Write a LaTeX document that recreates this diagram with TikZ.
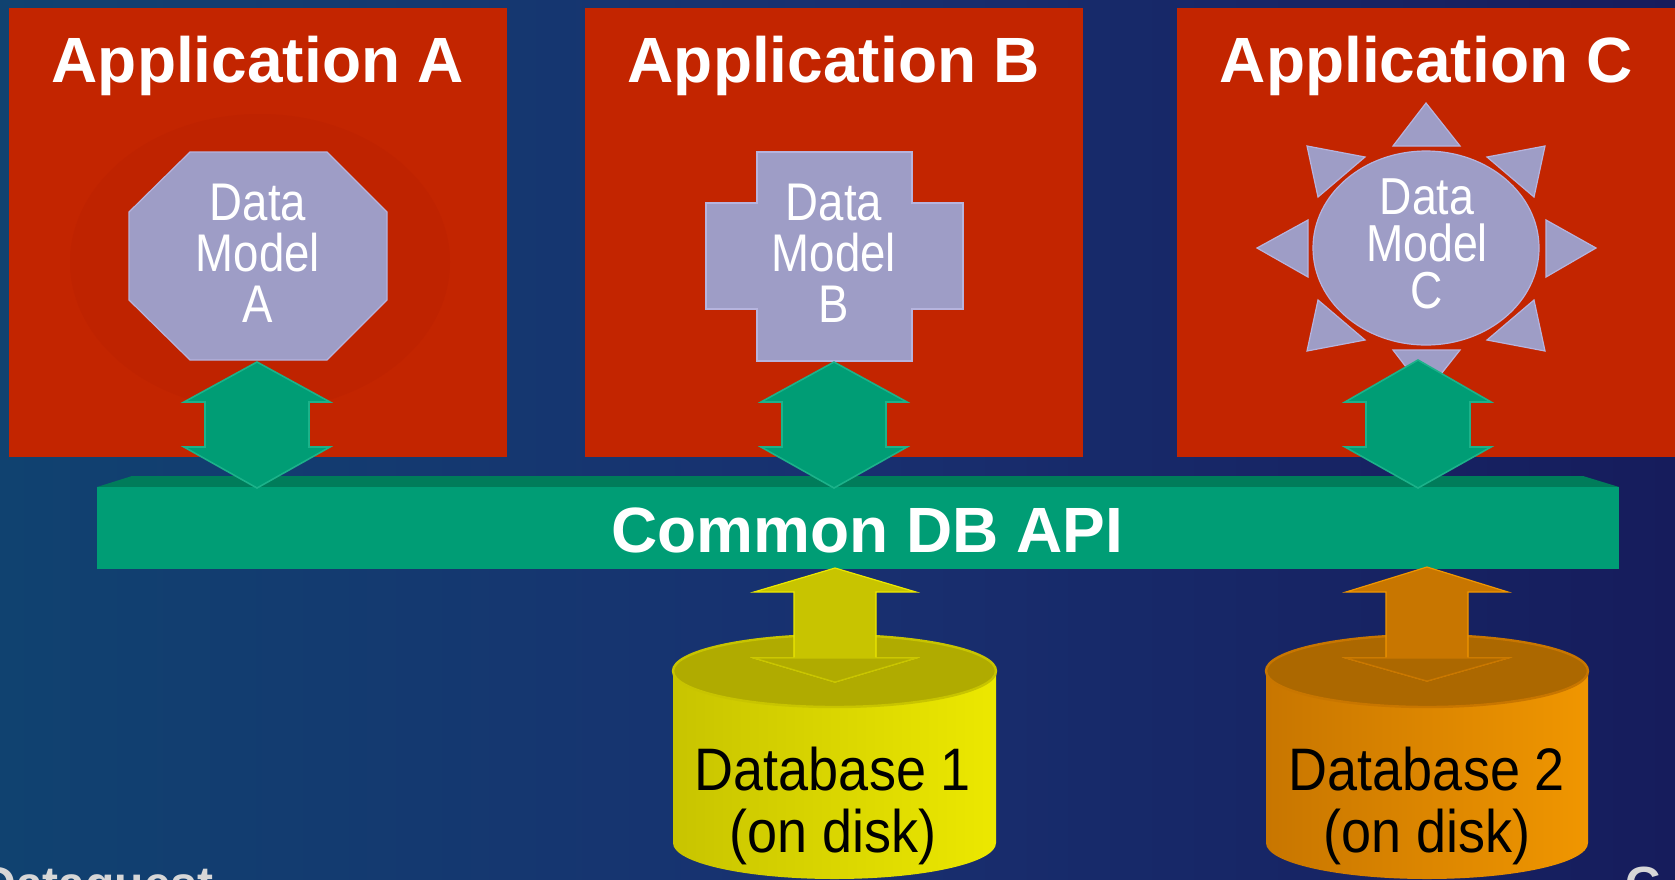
\documentclass[tikz,border=0pt]{standalone}
\usepackage{fontspec}
\setmainfont{Liberation Sans}
\newfontfamily\narrowfont[FakeStretch=0.86]{Liberation Sans}
\newfontfamily\diskfont[FakeStretch=0.9]{Liberation Sans}
\usetikzlibrary{positioning}

\definecolor{appred}{RGB}{195,37,0}
\definecolor{ringred}{RGB}{191,35,0}
\definecolor{modelblue}{RGB}{158,157,198}
\definecolor{modeledge}{RGB}{182,180,222}
\definecolor{apigreen}{RGB}{0,157,117}
\definecolor{apitop}{RGB}{0,124,90}
\definecolor{apiedge}{RGB}{28,178,138}
\definecolor{dbyellow}{RGB}{200,196,0}
\definecolor{dbyellowtop}{RGB}{176,171,0}
\definecolor{dbyellowlight}{RGB}{236,232,0}
\definecolor{dborange}{RGB}{200,118,0}
\definecolor{dborangetop}{RGB}{172,104,0}
\definecolor{dborangelight}{RGB}{240,150,0}
\definecolor{bgleft}{RGB}{16,66,112}
\definecolor{bgmid}{RGB}{24,48,112}
\definecolor{bgright}{RGB}{22,28,92}
\definecolor{footgrey}{RGB}{215,215,215}

\begin{document}
\begin{tikzpicture}[x=0.5pt,y=-0.5pt,
  appbox/.style={fill=appred},
  title/.style={text=white,anchor=base,inner sep=0,
    font=\fontsize{32}{36}\selectfont\bfseries},
  model/.style={fill=modelblue,draw=modeledge,line width=0.6},
  modeltext/.style={text=white,align=center,inner sep=0,
    font=\narrowfont\fontsize{26.5}{25.5}\selectfont},
  greenarrow/.style={fill=apigreen,draw=apiedge,line width=0.8},
  dbtext/.style={text=black,align=center,inner sep=0,
    font=\diskfont\fontsize{30}{31}\selectfont},
  footer/.style={text=footgrey,inner sep=0,
    font=\fontsize{24}{26}\selectfont\bfseries}]
  \useasboundingbox (0,0) rectangle (1675,879);
  \clip (0,0) rectangle (1675,879);
  \shade[left color=bgleft,right color=bgright,middle color=bgmid]
    (0,0) rectangle (1675,879);

  % application boxes
  \fill[appbox] (9,8) rectangle (507,457);
  \fill[appbox] (585,8) rectangle (1083,457);
  \fill[appbox] (1177,8) rectangle (1675,457);
  \fill[ringred] (260,262) ellipse [x radius=190,y radius=148];
  \node[title] (appA) at (258,82) {Application A};
  \node[title] (appB) at (834,82) {Application B};
  \node[title] (appC) at (1426,82) {Application C};

  % data models
  \draw[model] (190,152) -- (327,152) -- (387,212) -- (387,300) -- (327,360)
    -- (190,360) -- (129,300) -- (129,212) -- cycle;
  \draw[model] (757,152) -- (912,152) -- (912,203) -- (963,203) -- (963,309)
    -- (912,309) -- (912,361) -- (757,361) -- (757,309) -- (706,309)
    -- (706,203) -- (757,203) -- cycle;
  \draw[model] (1426,103) -- (1460,146) -- (1393,146) -- cycle;
  \draw[model] (1426,393) -- (1460,350) -- (1393,350) -- cycle;
  \draw[model] (1257,248) -- (1308,220) -- (1308,277) -- cycle;
  \draw[model] (1596,248) -- (1546,220) -- (1546,277) -- cycle;
  \draw[model] (1307,146) -- (1365,157) -- (1318,197) -- cycle;
  \draw[model] (1545,146) -- (1487,157) -- (1534,197) -- cycle;
  \draw[model] (1307,351) -- (1365,340) -- (1318,300) -- cycle;
  \draw[model] (1545,351) -- (1487,340) -- (1534,300) -- cycle;
  \draw[model] (1426,248) ellipse [x radius=113,y radius=97];
  \node[modeltext] (modelA) at (258,253) {Data\\Model\\A};
  \node[modeltext] (modelB) at (834,253) {Data\\Model\\B};
  \node[modeltext,font=\narrowfont\fontsize{26}{23.5}\selectfont]
    (modelC) at (1427,244) {Data\\Model\\C};

  % common API bar
  \fill[apitop] (97,487) -- (132,476) -- (1583,476) -- (1619,487) -- cycle;
  \fill[apigreen] (97,487) rectangle (1619,569);
  \node[title] (api) at (867,552) {Common DB API};

  \draw[greenarrow,shift={(257,0)}] (0,362) -- (73,402) -- (52,402) -- (52,447)
    -- (73,447) -- (0,488) -- (-73,447) -- (-52,447) -- (-52,402) -- (-73,402) -- cycle;
  \draw[greenarrow,shift={(834,0)}] (0,362) -- (73,402) -- (52,402) -- (52,447)
    -- (73,447) -- (0,488) -- (-73,447) -- (-52,447) -- (-52,402) -- (-73,402) -- cycle;
  \draw[greenarrow,shift={(1418,0)}] (0,360) -- (73,402) -- (52,402) -- (52,447)
    -- (73,447) -- (0,488) -- (-73,447) -- (-52,447) -- (-52,402) -- (-73,402) -- cycle;

  % databases
  \shade[left color=dbyellow,right color=dbyellowlight]
    (673,671) -- (673,843) arc[start angle=180,end angle=0,x radius=161.5,y radius=36]
    -- (996,671) -- cycle;
  \filldraw[fill=dbyellowtop,draw=dbyellow,line width=1.2]
    (834.5,671) ellipse [x radius=161.5,y radius=36];
  \draw[fill=dbyellow,draw=dbyellowlight,line width=0.6,shift={(835,0)}]
    (0,568) -- (81,592) -- (41,592) -- (41,658) -- (81,658) -- (0,682)
    -- (-81,658) -- (-41,658) -- (-41,592) -- (-81,592) -- cycle;
  \draw[fill=dbyellowtop,draw=dbyellow,line width=0.6,shift={(835,0)}]
    (-81,658) -- (81,658) -- (0,682) -- cycle;
  \node[dbtext] (db1) at (833,806) {Database 1\\(on disk)};

  \shade[left color=dborange,right color=dborangelight]
    (1266,671) -- (1266,843) arc[start angle=180,end angle=0,x radius=161,y radius=36]
    -- (1588,671) -- cycle;
  \filldraw[fill=dborangetop,draw=dborange,line width=1.2]
    (1427,671) ellipse [x radius=161,y radius=36];
  \draw[fill=dborange,draw=dborangelight,line width=0.6,shift={(1427,0)}]
    (0,567) -- (81,592) -- (41,592) -- (41,658) -- (81,658) -- (0,681)
    -- (-81,658) -- (-41,658) -- (-41,592) -- (-81,592) -- cycle;
  \draw[fill=dborangetop,draw=dborange,line width=0.6,shift={(1427,0)}]
    (-81,658) -- (81,658) -- (0,681) -- cycle;
  \node[dbtext] (db2) at (1427,806) {Database 2\\(on disk)};

  % footer, cut by the page edge
  \node[footer,anchor=base east] (logoL) at (214,900) {Dataquest};
  \node[footer,anchor=base west] (logoR) at (1625,900) {G};
\end{tikzpicture}
\end{document}
